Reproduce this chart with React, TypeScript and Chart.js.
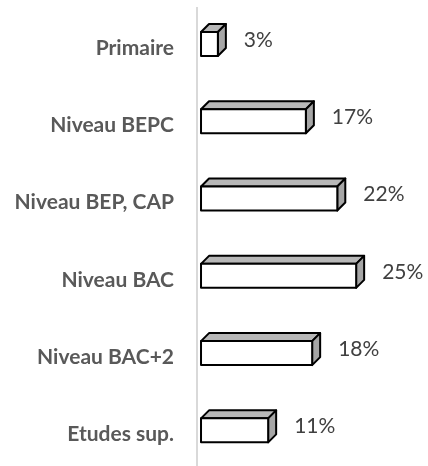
import React, { useEffect, useRef } from "react";
import { Chart, registerables } from "chart.js";

Chart.register(...registerables);

const categories = [
  "Primaire",
  "Niveau BEPC",
  "Niveau BEP, CAP",
  "Niveau BAC",
  "Niveau BAC+2",
  "Etudes sup.",
];
const values = [3, 17, 22, 25, 18, 11];
const valueLabels = ["3%", "17%", "22%", "25%", "18%", "11%"];

const DX = 8;
const DY = 8;
const FONT = "Lato";

const axisLine = {
  id: "axisLine",
  beforeDatasetsDraw(chart: any) {
    const ctx = chart.ctx;
    const x = chart.chartArea.left;
    ctx.save();
    ctx.strokeStyle = "#d9d9d9";
    ctx.lineWidth = 2;
    ctx.beginPath();
    ctx.moveTo(x, 7);
    ctx.lineTo(x, chart.height);
    ctx.stroke();
    ctx.restore();
  },
};

const bar3d = {
  id: "bar3d",
  afterDatasetsDraw(chart: any) {
    const ctx = chart.ctx;
    const meta = chart.getDatasetMeta(0);
    ctx.save();
    meta.data.forEach((el: any, i: number) => {
      const { x, y, base, height } = el.getProps(["x", "y", "base", "height"], true);
      const l = base + 1;
      const r = x - 1;
      const t = y - height / 2 + 1;
      const b = y + height / 2 - 1;
      ctx.lineWidth = 2;
      ctx.strokeStyle = "#000000";
      ctx.lineJoin = "round";
      // top face
      ctx.beginPath();
      ctx.moveTo(l, t);
      ctx.lineTo(l + DX, t - DY);
      ctx.lineTo(r + DX, t - DY);
      ctx.lineTo(r, t);
      ctx.closePath();
      ctx.fillStyle = "#b8b8b8";
      ctx.fill();
      ctx.stroke();
      // right face
      ctx.beginPath();
      ctx.moveTo(r, t);
      ctx.lineTo(r + DX, t - DY);
      ctx.lineTo(r + DX, b - DY);
      ctx.lineTo(r, b);
      ctx.closePath();
      ctx.fillStyle = "#a6a6a6";
      ctx.fill();
      ctx.stroke();
      // front face
      ctx.fillStyle = "#ffffff";
      ctx.fillRect(l, t, r - l, b - t);
      ctx.strokeRect(l, t, r - l, b - t);
      // value label
      ctx.fillStyle = "#404040";
      ctx.font = `21px ${FONT}`;
      ctx.textBaseline = "middle";
      ctx.textAlign = "left";
      ctx.fillText(valueLabels[i], x + DX + 17, y - 4);
    });
    ctx.restore();
  },
};

export default function App() {
  const ref = useRef<HTMLCanvasElement | null>(null);

  useEffect(() => {
    if (!ref.current) return;
    const chart = new Chart(ref.current, {
      type: "bar",
      data: {
        labels: categories,
        datasets: [
          {
            data: values,
            backgroundColor: "rgba(0,0,0,0)",
            borderWidth: 0,
            barThickness: 26,
          },
        ],
      },
      options: {
        indexAxis: "y",
        responsive: false,
        animation: false,
        layout: { padding: { top: 5.4, right: 8, left: 0, bottom: 0 } },
        plugins: {
          legend: { display: false },
          tooltip: { enabled: false },
        },
        scales: {
          x: {
            display: false,
            min: -0.48,
            max: 35,
          },
          y: {
            grid: { display: false, drawTicks: false },
            border: { display: false },
            ticks: {
              color: "#595959",
              font: { family: FONT, size: 21, weight: "bold" },
              padding: 23,
              labelOffset: 4,
            },
            afterFit(scale: any) {
              scale.width = 197;
              scale.paddingTop = 0;
              scale.paddingBottom = 0;
            },
          },
        },
      },
      plugins: [axisLine, bar3d],
    });
    return () => chart.destroy();
  }, []);

  return (
    <div
      style={{
        position: "absolute",
        left: 0,
        top: 0,
        width: 428,
        height: 466,
        overflow: "hidden",
        background: "#ffffff",
      }}
    >
      <canvas ref={ref} width={428} height={469} style={{ display: "block" }} />
    </div>
  );
}
